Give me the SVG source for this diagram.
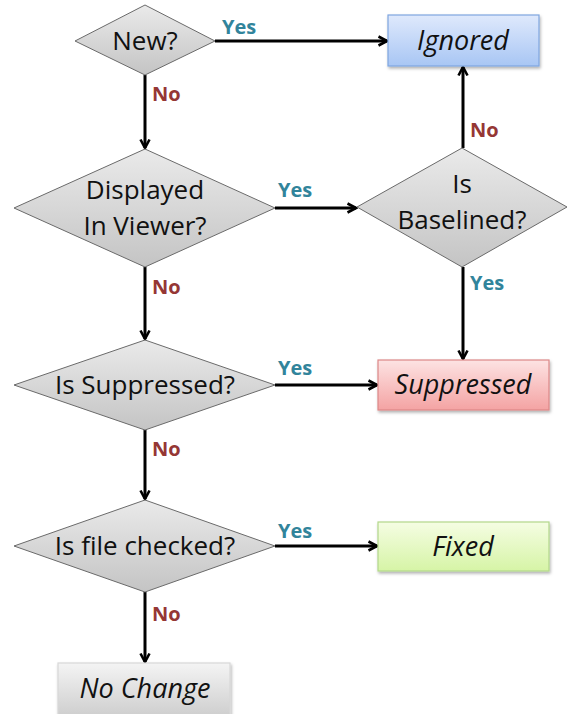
<svg xmlns="http://www.w3.org/2000/svg" width="567" height="714" viewBox="0 0 567 714">
<style>
.dia{stroke:#6a6a6a;stroke-width:1;fill:url(#gGray)}
.box{stroke-width:1.2}
.t{font-family:"Open Sans","Noto Sans","Liberation Sans",sans-serif;font-size:26px;fill:#111;text-anchor:middle}
.ti{font-family:"Open Sans","Noto Sans","Liberation Sans",sans-serif;font-size:27px;font-style:italic;fill:#111;text-anchor:middle}
.yes{font-family:"Open Sans","Noto Sans","Liberation Sans",sans-serif;font-size:20px;font-weight:bold;fill:#31849b}
.no{font-family:"Open Sans","Noto Sans","Liberation Sans",sans-serif;font-size:20px;font-weight:bold;fill:#953735}
.c{stroke:#000;stroke-width:3;fill:none;marker-end:url(#arr)}
</style>
<defs>
<linearGradient id="gGray" x1="0" y1="0" x2="0" y2="1"><stop offset="0" stop-color="#eaeaea"/><stop offset="1" stop-color="#c4c4c4"/></linearGradient>
<linearGradient id="gBlue" x1="0" y1="0" x2="0" y2="1"><stop offset="0" stop-color="#dfe9fc"/><stop offset="1" stop-color="#a8c6f4"/></linearGradient>
<linearGradient id="gRed" x1="0" y1="0" x2="0" y2="1"><stop offset="0" stop-color="#fde3e3"/><stop offset="1" stop-color="#f4a3a3"/></linearGradient>
<linearGradient id="gGreen" x1="0" y1="0" x2="0" y2="1"><stop offset="0" stop-color="#f5fde3"/><stop offset="1" stop-color="#d6f4a6"/></linearGradient>
<linearGradient id="gNC" x1="0" y1="0" x2="0" y2="1"><stop offset="0" stop-color="#f4f4f4"/><stop offset="1" stop-color="#cfcfcf"/></linearGradient>
<filter id="sh" x="-10%" y="-10%" width="125%" height="140%"><feDropShadow dx="1" dy="2" stdDeviation="1.5" flood-color="#000" flood-opacity="0.3"/></filter>
<marker id="arr" viewBox="0 0 12 12" refX="10.5" refY="6" markerWidth="12" markerHeight="12" markerUnits="userSpaceOnUse" orient="auto">
<path d="M2,1.5 L10.5,6 L2,10.5" fill="none" stroke="#000" stroke-width="2.6" stroke-linejoin="miter"/>
</marker>
</defs>

<g id="connectors">
<line class="c" x1="215" y1="41" x2="387" y2="41"/>
<line class="c" x1="145" y1="75" x2="145" y2="148"/>
<line class="c" x1="275" y1="208" x2="356" y2="208"/>
<line class="c" x1="463" y1="148" x2="463" y2="67"/>
<line class="c" x1="463" y1="267" x2="463" y2="359"/>
<line class="c" x1="145" y1="267" x2="145" y2="339"/>
<line class="c" x1="275" y1="385" x2="377" y2="385"/>
<line class="c" x1="145" y1="430" x2="145" y2="499"/>
<line class="c" x1="275" y1="546" x2="377" y2="546"/>
<line class="c" x1="145" y1="592" x2="145" y2="662"/>
<text class="yes" x="222" y="34">Yes</text>
<text class="no" x="152" y="101">No</text>
<text class="yes" x="278" y="197">Yes</text>
<text class="no" x="470" y="137">No</text>
<text class="yes" x="470" y="290">Yes</text>
<text class="no" x="152" y="294">No</text>
<text class="yes" x="278" y="375">Yes</text>
<text class="no" x="152" y="456">No</text>
<text class="yes" x="278" y="538">Yes</text>
<text class="no" x="152" y="621">No</text>
</g>

<g id="new">
<polygon class="dia" points="145,5 215,41 145,75 75,41"/>
<text class="t" x="145" y="50">New?</text>
</g>
<g id="ignored">
<rect class="box" x="388" y="15" width="151" height="51" fill="url(#gBlue)" stroke="#7fa6df" filter="url(#sh)"/>
<text class="ti" x="463" y="50">Ignored</text>
</g>
<g id="displayed">
<polygon class="dia" points="145,149 275,208 145,267 14,208"/>
<text class="t" x="145" y="199">Displayed</text>
<text class="t" x="145" y="235">In Viewer?</text>
</g>
<g id="baselined">
<polygon class="dia" points="462,148 567,207 462,267 357,207"/>
<text class="t" x="462" y="193">Is</text>
<text class="t" x="462" y="229">Baselined?</text>
</g>
<g id="is-suppressed">
<polygon class="dia" points="145,340 275,385 145,430 14,385"/>
<text class="t" x="145" y="394">Is Suppressed?</text>
</g>
<g id="suppressed">
<rect class="box" x="378" y="360" width="171" height="50" fill="url(#gRed)" stroke="#dd8888" filter="url(#sh)"/>
<text class="ti" x="463" y="394">Suppressed</text>
</g>
<g id="file-checked">
<polygon class="dia" points="145,500 275,546 145,592 14,546"/>
<text class="t" x="145" y="555">Is file checked?</text>
</g>
<g id="fixed">
<rect class="box" x="378" y="522" width="171" height="49" fill="url(#gGreen)" stroke="#b3d88a" filter="url(#sh)"/>
<text class="ti" x="463" y="556">Fixed</text>
</g>
<g id="no-change">
<rect class="box" x="58" y="663" width="172" height="52" fill="url(#gNC)" stroke="#d8d8d8" filter="url(#sh)"/>
<text class="ti" x="145" y="698">No Change</text>
</g>
</svg>
